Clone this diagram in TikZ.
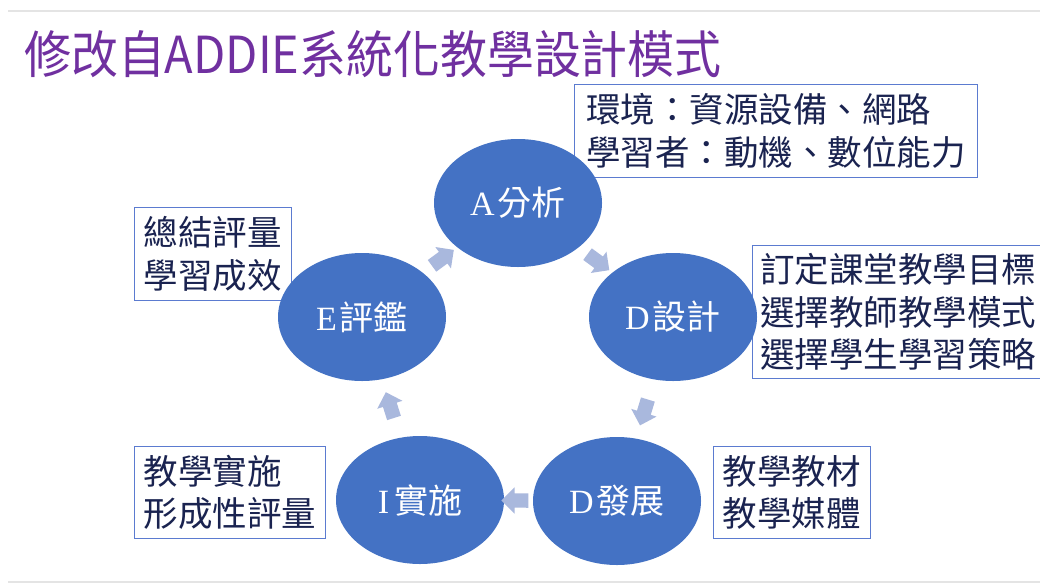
\documentclass[tikz,border=0pt]{standalone}
\usepackage{fontspec}
\setmainfont{Liberation Serif}
\newfontfamily\cjk{Noto Sans CJK TC}
\usetikzlibrary{shapes.geometric,shapes.arrows}
\definecolor{ellblue}{HTML}{4472C4}
\definecolor{titlepurple}{HTML}{7030A0}
\definecolor{boxline}{HTML}{5B7BD0}
\definecolor{boxtext}{HTML}{1A2350}
\definecolor{arrowfill}{HTML}{A9B8DD}
\definecolor{rulegray}{HTML}{E4E4E4}
\tikzset{
  phase/.style={ellipse, fill=ellblue, draw=none, minimum width=168pt, minimum height=128pt,
    inner sep=0pt, text=white, font=\fontsize{34}{40}\selectfont},
  infobox/.style={draw=boxline, line width=0.8pt, fill=white, anchor=north west, align=left,
    inner xsep=8pt, inner ysep=0pt, text=boxtext, font=\cjk\fontsize{34.5}{42.5}\selectfont},
  cycarrow/.style={shape=single arrow, sloped, allow upside down, fill=arrowfill, draw=none,
    minimum height=27pt, inner xsep=0pt, inner ysep=7pt, single arrow head extend=6pt},
  slideline/.style={draw=rulegray, line width=1.5pt}
}
\begin{document}
\begin{tikzpicture}[x=1pt,y=-1pt]
\useasboundingbox[fill=white] (0,0) rectangle (1040,587);
% slide rules
\coordinate (tl) at (8,11); \coordinate (tr) at (1040,11);
\coordinate (bl) at (8,582); \coordinate (br) at (1040,582);
\draw[slideline] (tl) -- (tr);
\draw[slideline] (bl) -- (br);
% title
\node[anchor=west, inner sep=0pt, text=titlepurple, xscale=0.92,
  font=\cjk\fontsize{51}{56}\selectfont] (title) at (24,54) {修改自ADDIE系統化教學設計模式};
% info boxes
\node[infobox, minimum width=403pt, minimum height=93pt] (env) at (574,84)
  {環境：資源設備、網路\\學習者：動機、數位能力};
\node[infobox, minimum height=133pt] (dsg) at (752,245)
  {訂定課堂教學目標\\選擇教師教學模式\\選擇學生學習策略};
\node[infobox, minimum width=157pt, minimum height=93pt] (evl) at (134,207)
  {總結評量\\學習成效};
\node[infobox, minimum width=191pt, minimum height=92pt] (imp) at (134,446)
  {教學實施\\形成性評量};
\node[infobox, minimum width=157pt, minimum height=92pt] (dev) at (713,446)
  {教學教材\\教學媒體};
% phases
\node[phase] (A) at (518,203) {A\hspace{3pt}{\cjk 分析}};
\node[phase] (D1) at (673,317) {D\hspace{3pt}{\cjk 設計}};
\node[phase] (D2) at (617,501) {D\hspace{3pt}{\cjk 發展}};
\node[phase] (I) at (420,500) {I\hspace{5pt}{\cjk 實施}};
\node[phase] (E) at (362,317) {E\hspace{3pt}{\cjk 評鑑}};
% cycle arrows
\path (A) -- node[cycarrow] (a1) {} (D1);
\path (D1) -- node[cycarrow] (a2) {} (D2);
\path (D2) -- node[cycarrow] (a3) {} (I);
\path (I) -- node[cycarrow] (a4) {} (E);
\path (E) -- node[cycarrow] (a5) {} (A);
\end{tikzpicture}
\end{document}
